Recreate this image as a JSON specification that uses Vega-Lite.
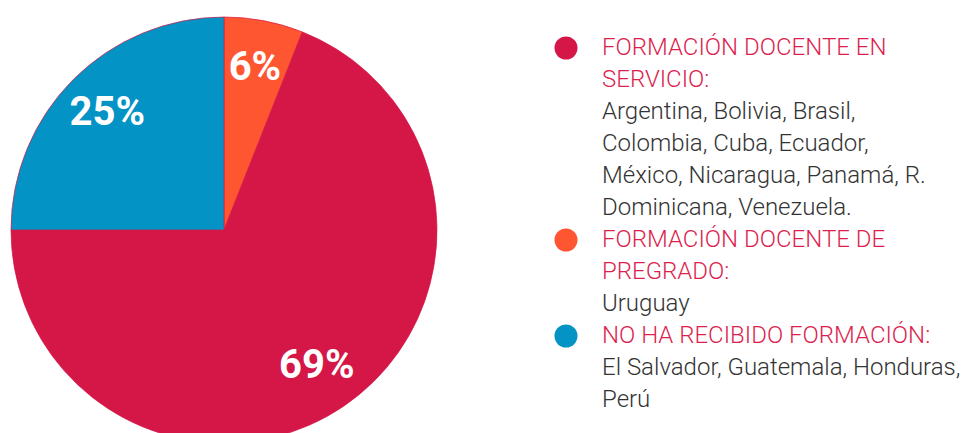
{
  "$schema": "https://vega.github.io/schema/vega-lite/v6.json",
  "padding": 0,
  "spacing": 0,
  "background": "white",
  "config": {"view": {"stroke": null}},
  "datasets": {
    "slices": [
      {"cat": "pregrado", "rank": 1, "value": 6, "label": "6%"},
      {"cat": "servicio", "rank": 2, "value": 69, "label": "69%"},
      {"cat": "ninguna", "rank": 3, "value": 25, "label": "25%"}
    ],
    "lines": [
      {"line": 0, "kind": "title", "cat": "servicio", "bullet": true, "text": "FORMACIÓN DOCENTE EN"},
      {"line": 1, "kind": "title", "cat": "servicio", "bullet": false, "text": "SERVICIO:"},
      {"line": 2, "kind": "body", "cat": "servicio", "bullet": false, "text": "Argentina, Bolivia, Brasil,"},
      {"line": 3, "kind": "body", "cat": "servicio", "bullet": false, "text": "Colombia, Cuba, Ecuador,"},
      {"line": 4, "kind": "body", "cat": "servicio", "bullet": false, "text": "México, Nicaragua, Panamá, R."},
      {"line": 5, "kind": "body", "cat": "servicio", "bullet": false, "text": "Dominicana, Venezuela."},
      {"line": 6, "kind": "title", "cat": "pregrado", "bullet": true, "text": "FORMACIÓN DOCENTE DE"},
      {"line": 7, "kind": "title", "cat": "pregrado", "bullet": false, "text": "PREGRADO:"},
      {"line": 8, "kind": "body", "cat": "pregrado", "bullet": false, "text": "Uruguay"},
      {"line": 9, "kind": "title", "cat": "ninguna", "bullet": true, "text": "NO HA RECIBIDO FORMACIÓN:"},
      {"line": 10, "kind": "body", "cat": "ninguna", "bullet": false, "text": "El Salvador, Guatemala, Honduras,"},
      {"line": 11, "kind": "body", "cat": "ninguna", "bullet": false, "text": "Perú"}
    ]
  },
  "hconcat": [
    {
      "width": 448,
      "height": 460,
      "data": {"name": "slices"},
      "layer": [
        {
          "mark": {"type": "arc", "outerRadius": 213, "stroke": "#D51747", "strokeWidth": 0.7},
          "encoding": {
            "theta": {"field": "value", "type": "quantitative", "stack": true},
            "order": {"field": "rank", "type": "quantitative"},
            "color": {
              "field": "cat", "type": "nominal",
              "scale": {"domain": ["servicio", "pregrado", "ninguna"], "range": ["#D51747", "#FF5632", "#0393C5"]},
              "legend": null
            }
          }
        },
        {
          "mark": {"type": "text", "radius": 165, "font": "Roboto", "fontWeight": "bold", "fontSize": 40, "color": "white", "align": "center", "baseline": "middle"},
          "encoding": {
            "theta": {"field": "value", "type": "quantitative", "stack": true},
            "order": {"field": "rank", "type": "quantitative"},
            "text": {"field": "label", "type": "nominal"}
          }
        }
      ]
    },
    {
      "width": 514,
      "height": 460,
      "data": {"name": "lines"},
      "layer": [
        {
          "transform": [{"filter": "datum.bullet"}],
          "mark": {"type": "circle", "size": 530, "opacity": 1},
          "encoding": {
            "x": {"value": 118},
            "y": {"field": "line", "type": "quantitative", "scale": {"domain": [-1.5, 12.875], "reverse": true}, "axis": null},
            "color": {
              "field": "cat", "type": "nominal",
              "scale": {"domain": ["servicio", "pregrado", "ninguna"], "range": ["#D51747", "#FF5632", "#0393C5"]},
              "legend": null
            }
          }
        },
        {
          "mark": {"type": "text", "font": "Roboto", "fontSize": 24, "fontWeight": 300, "align": "left", "baseline": "middle"},
          "encoding": {
            "x": {"value": 154},
            "y": {"field": "line", "type": "quantitative", "scale": {"domain": [-1.5, 12.875], "reverse": true}, "axis": null},
            "text": {"field": "text", "type": "nominal"},
            "color": {
              "field": "kind", "type": "nominal",
              "scale": {"domain": ["title", "body"], "range": ["#DC1F50", "#333333"]},
              "legend": null
            }
          }
        }
      ],
      "resolve": {"scale": {"color": "independent"}}
    }
  ],
  "resolve": {"scale": {"color": "independent"}}
}
